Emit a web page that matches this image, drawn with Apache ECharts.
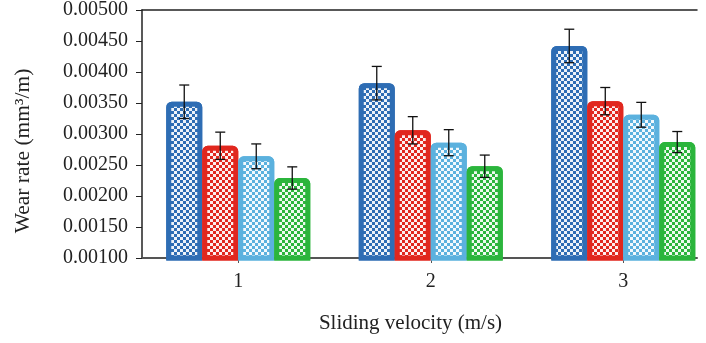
<!DOCTYPE html>
<html>
<head>
<meta charset="utf-8">
<style>
    html, body { margin: 0; padding: 0; background: #fff; }
    #chart { width: 706px; height: 343px; }
</style>
<script src="https://cdn.jsdelivr.net/npm/echarts@6/dist/echarts.min.js"></script>
</head>
<body>
<div id="chart"></div>
<script>
// sliding velocity (m/s)
const velocities = [1, 2, 3];
const yTicks = [0.001, 0.0015, 0.002, 0.0025, 0.003, 0.0035, 0.004, 0.0045, 0.005];

// wear rate per sample, 4 bars per velocity
const blueVals  = [0.00352, 0.00382, 0.00442];
const redVals   = [0.00281, 0.00306, 0.00353];
const cyanVals  = [0.00264, 0.00286, 0.00331];
const greenVals = [0.00229, 0.00248, 0.00287];

const blueErr  = [0.00027, 0.00027, 0.00027];
const redErr   = [0.00022, 0.00022, 0.00022];
const cyanErr  = [0.00020, 0.00021, 0.00020];
const greenErr = [0.00018, 0.00018, 0.00017];

const BAR_W = 36;
const FONT = '"Liberation Serif", "DejaVu Serif", serif';

const groups = [
    { vals: blueVals,  errs: blueErr,  color: '#2e6db4' },
    { vals: redVals,   errs: redErr,   color: '#e1271e' },
    { vals: cyanVals,  errs: cyanErr,  color: '#5bb1de' },
    { vals: greenVals, errs: greenErr, color: '#2bb53c' }
];

const checker = {
    symbol: 'rect',
    symbolSize: 1,
    color: 'rgba(255,255,255,0.92)',
    dashArrayX: [[3, 3], [0, 3, 3, 0]],
    dashArrayY: [3, 0]
};

const series = [];
groups.forEach(function (g) {
    series.push({
        type: 'bar',
        barWidth: BAR_W,
        barGap: '0%',
        data: velocities.map(function (v, k) { return [v, g.vals[k]]; }),
        itemStyle: {
            color: g.color,
            borderColor: g.color,
            borderWidth: 5,
            borderRadius: [3, 3, 0, 0],
            decal: checker
        },
        silent: true
    });
});
groups.forEach(function (g, i) {
    const off = (i - 1.5) * BAR_W;
    series.push({
        type: 'custom',
        z: 10,
        silent: true,
        data: velocities.map(function (v, k) { return [v, g.vals[k], g.errs[k]]; }),
        renderItem: function (params, api) {
            const x = api.value(0), y = api.value(1), e = api.value(2);
            const hi = api.coord([x, y + e]);
            const lo = api.coord([x, y - e]);
            const cx = hi[0] + off;
            const st = { stroke: '#111', lineWidth: 1.3 };
            return {
                type: 'group',
                children: [
                    { type: 'line', shape: { x1: cx, y1: hi[1], x2: cx, y2: lo[1] }, style: st },
                    { type: 'line', shape: { x1: cx - 5, y1: hi[1], x2: cx + 5, y2: hi[1] }, style: st },
                    { type: 'line', shape: { x1: cx - 5, y1: lo[1], x2: cx + 5, y2: lo[1] }, style: st }
                ]
            };
        }
    });
});

const chart = echarts.init(document.getElementById('chart'));
chart.setOption({
    animation: false,
    aria: { enabled: false },
    grid: { left: 142, right: 9, top: 10, bottom: 85 },
    xAxis: [
        {
            type: 'value',
            min: 0.5,
            max: 3.383,
            name: 'Sliding velocity (m/s)',
            nameLocation: 'middle',
            nameGap: 55,
            nameTextStyle: { fontFamily: FONT, fontSize: 21, color: '#222', padding: [0, 18, 0, 0] },
            splitLine: { show: false },
            axisLine: { show: true, lineStyle: { color: '#555', width: 2 } },
            axisTick: { show: true, customValues: velocities, length: 5, lineStyle: { color: '#555' } },
            axisLabel: { customValues: velocities, margin: 14, fontFamily: FONT, fontSize: 20, color: '#222' }
        },
        {
            type: 'value',
            position: 'top',
            min: 0.5,
            max: 3.383,
            splitLine: { show: false },
            axisLine: { show: true, onZero: false, lineStyle: { color: '#222', width: 1.5 } },
            axisTick: { show: false },
            axisLabel: { show: false }
        }
    ],
    yAxis: {
        type: 'value',
        min: yTicks[0],
        max: yTicks[yTicks.length - 1],
        interval: 0.0005,
        name: 'Wear rate (mm³/m)',
        nameLocation: 'middle',
        nameRotate: 90,
        nameGap: 108,
        nameTextStyle: { fontFamily: FONT, fontSize: 21.5, color: '#222', padding: [0, 34, 0, 0] },
        splitLine: { show: false },
        axisLine: { show: true, lineStyle: { color: '#222', width: 1.5 } },
        axisTick: { show: true, length: 6, lineStyle: { color: '#222' } },
        axisLabel: {
            margin: 14,
            fontFamily: FONT,
            fontSize: 20,
            color: '#222',
            formatter: function (v) { return v.toFixed(5); }
        }
    },
    series: series
});
window.addEventListener('resize', function () {
    chart.resize();
});
</script>
</body>
</html>
